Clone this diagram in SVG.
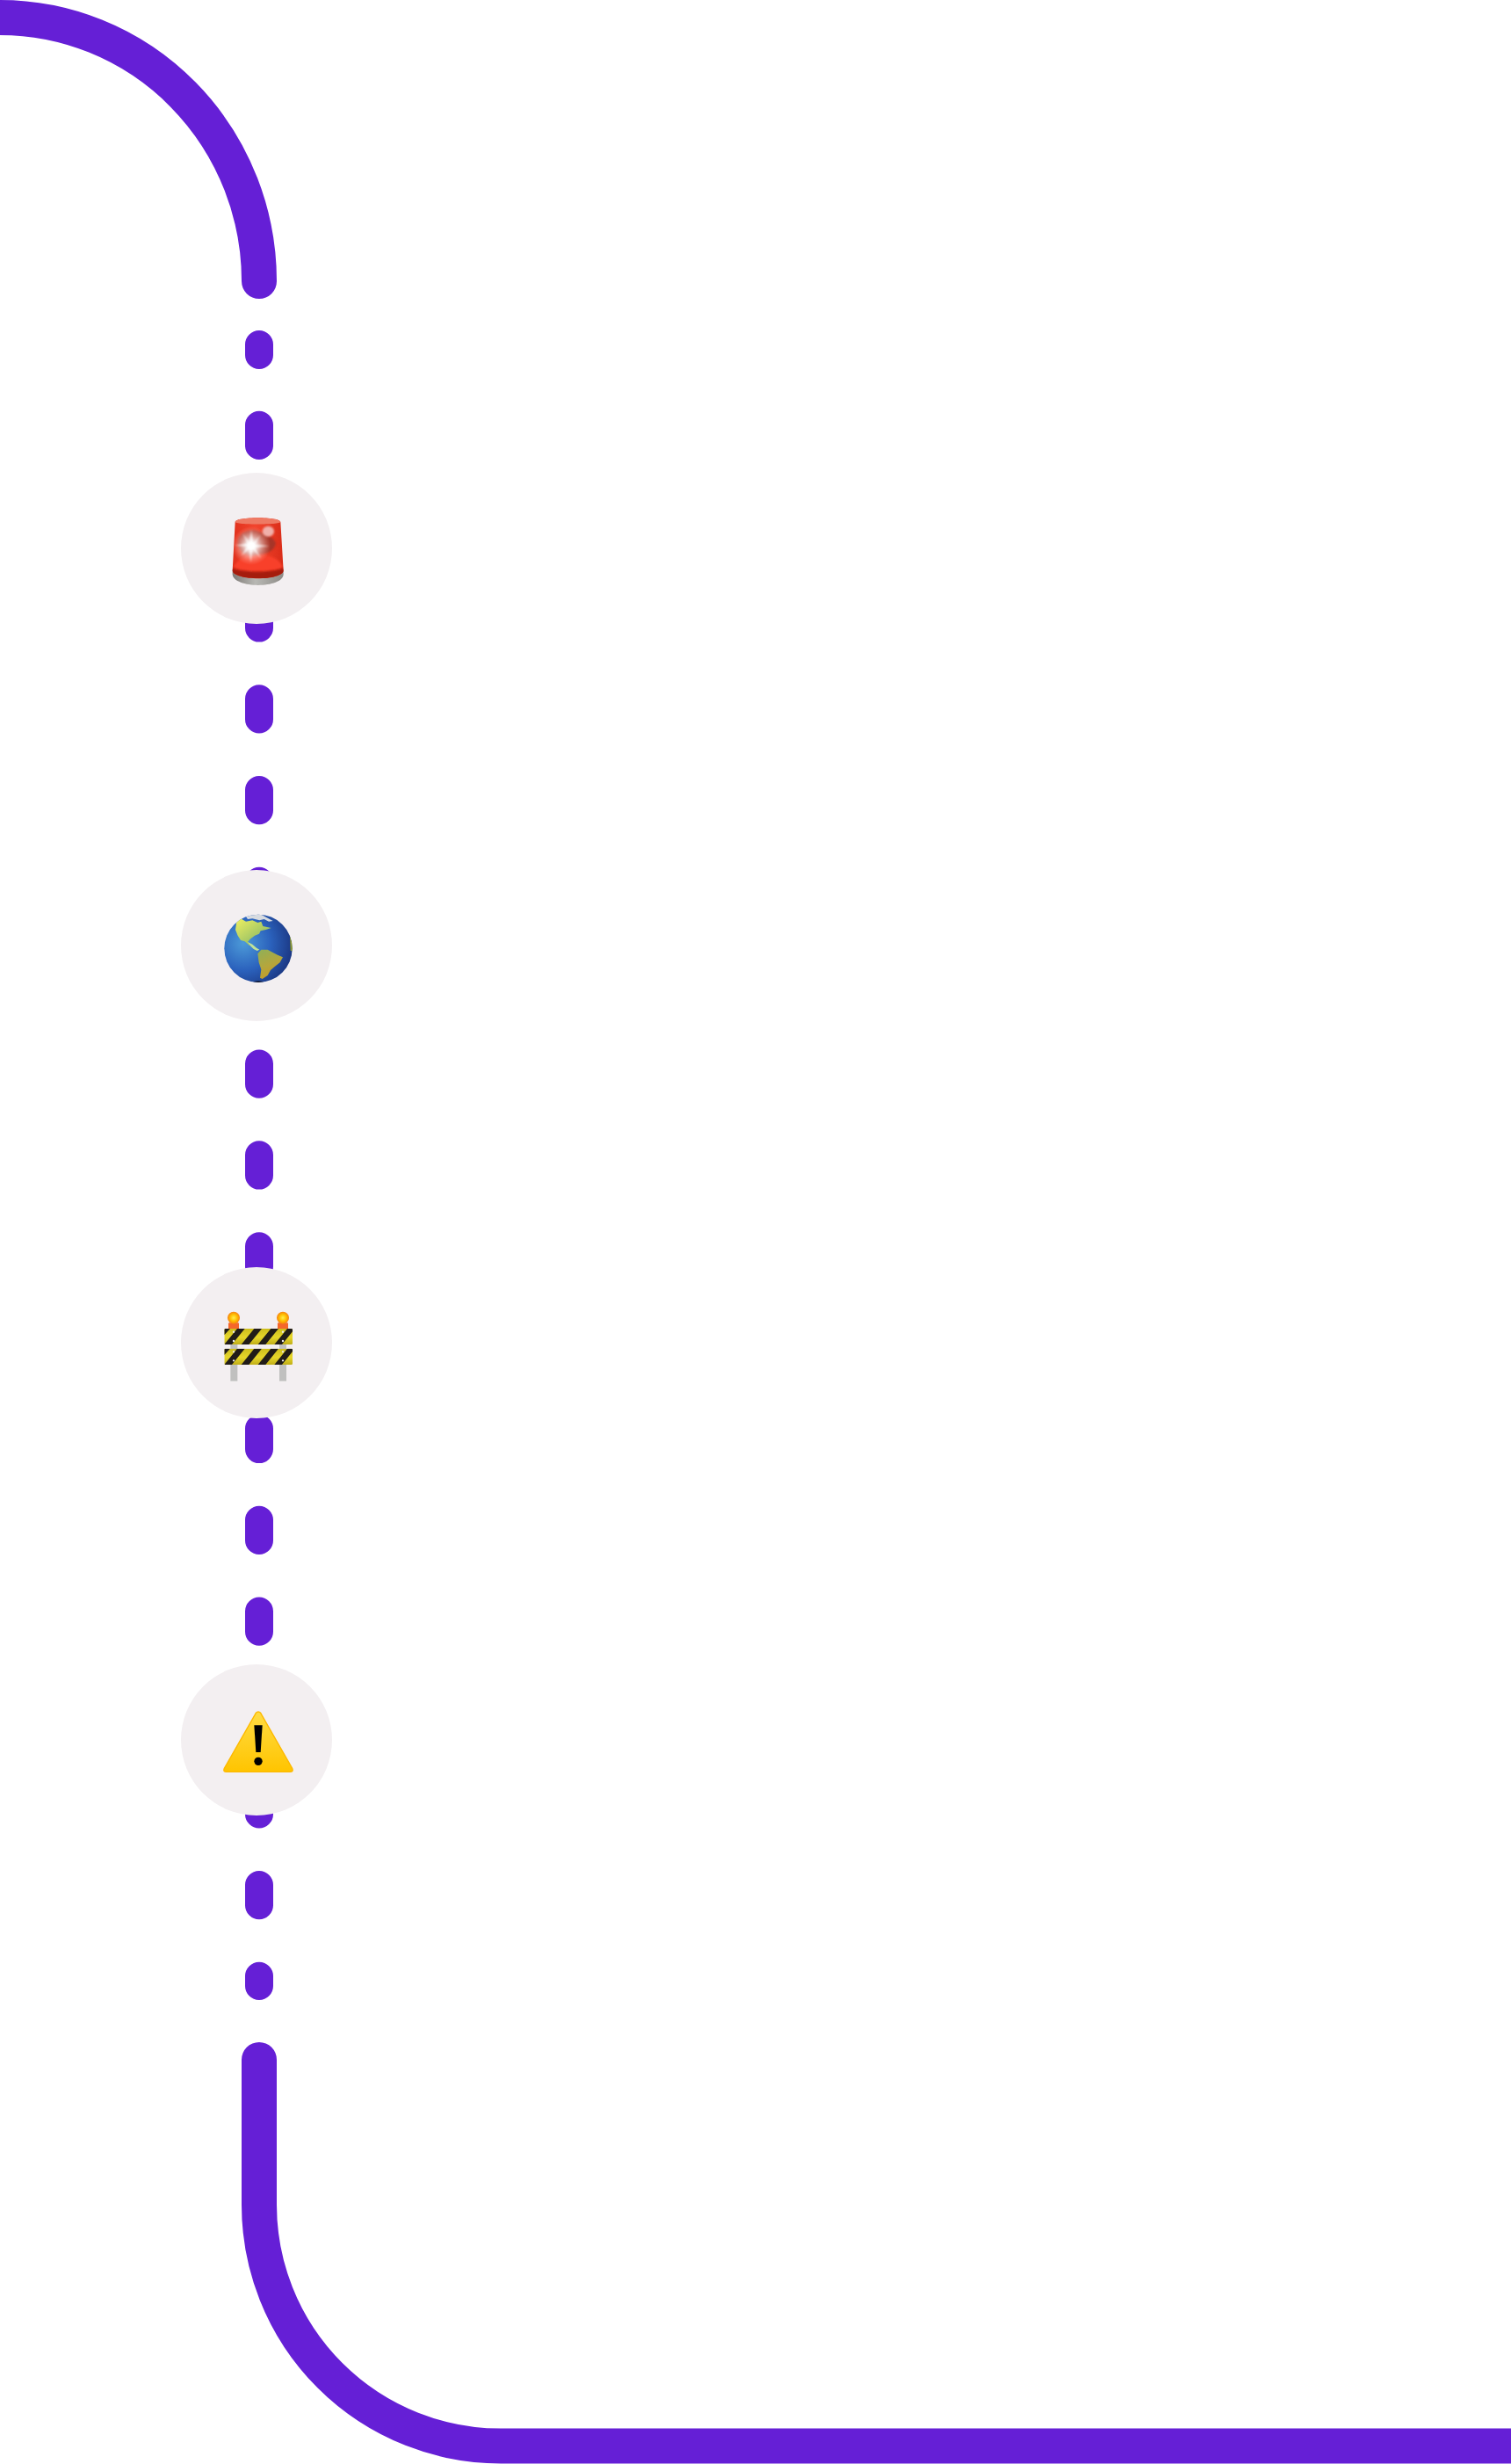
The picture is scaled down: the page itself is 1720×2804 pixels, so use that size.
<svg xmlns="http://www.w3.org/2000/svg" width="1720" height="2804" viewBox="0 0 1720 2804">
<style>
.thick{fill:none;stroke:#651fd6;stroke-width:40;stroke-linecap:round}
.dash{fill:none;stroke:#651fd6;stroke-width:32;stroke-linecap:round}
.disc{fill:#f3eff1}
</style>
<defs>
<filter id="soft" x="-20%" y="-20%" width="140%" height="140%"><feGaussianBlur stdDeviation="3"/></filter>
<filter id="soft2" x="-30%" y="-30%" width="160%" height="160%"><feGaussianBlur stdDeviation="7"/></filter>
<linearGradient id="gBody" x1="0" x2="1" y1="0" y2="0"><stop offset="0" stop-color="#e0301c"/><stop offset=".45" stop-color="#f2452e"/><stop offset="1" stop-color="#d92c18"/></linearGradient>
<linearGradient id="gBase" x1="0" x2="1" y1="0" y2="0"><stop offset="0" stop-color="#7f7b77"/><stop offset=".45" stop-color="#b8b8b4"/><stop offset="1" stop-color="#8d8b87"/></linearGradient>
<radialGradient id="gFlash"><stop offset="0" stop-color="#fff"/><stop offset=".3" stop-color="#fff" stop-opacity=".8"/><stop offset="1" stop-color="#ffb0a0" stop-opacity="0"/></radialGradient>
<radialGradient id="gSea" cx=".28" cy=".42" r=".8"><stop offset="0" stop-color="#4c9ad8"/><stop offset=".5" stop-color="#2b62bd"/><stop offset="1" stop-color="#182f78"/></radialGradient>
<linearGradient id="gLand" x1="0" x2="1" y1="0" y2="1"><stop offset="0" stop-color="#f0f060"/><stop offset=".6" stop-color="#a5c865"/><stop offset="1" stop-color="#8fb060"/></linearGradient>
<linearGradient id="gLand2" x1="0" x2=".4" y1="0" y2="1"><stop offset="0" stop-color="#8fb058"/><stop offset=".6" stop-color="#b5a63c"/><stop offset="1" stop-color="#c49c28"/></linearGradient>
<radialGradient id="gLamp"><stop offset="0" stop-color="#ffee50"/><stop offset=".55" stop-color="#ffc000"/><stop offset="1" stop-color="#f58010"/></radialGradient>
<linearGradient id="gPlank" x1="0" x2="0" y1="0" y2="1"><stop offset="0" stop-color="#cdbd1c"/><stop offset=".55" stop-color="#e6d62a"/><stop offset="1" stop-color="#c0ae18"/></linearGradient>
<linearGradient id="gWarn" x1="0" x2="0" y1="0" y2="1"><stop offset="0" stop-color="#ffdc44"/><stop offset="1" stop-color="#ffc400"/></linearGradient>
<clipPath id="cPlank1"><rect x="226" y="276" width="233" height="54" rx="4"/></clipPath>
<clipPath id="cPlank2"><rect x="226" y="344" width="233" height="55" rx="4"/></clipPath>
<clipPath id="cGlobe"><circle cx="342" cy="328" r="116"/></clipPath>
<clipPath id="cLens"><path d="M263 222C263 203 418 203 418 222L428 388C428 405 385 415 341 415C300 415 254 405 254 388Z"/></clipPath>
</defs>
<rect width="1720" height="2804" fill="#fff"/>
<g id="connectors">
<path class="thick" d="M-20 20H0A295 300 0 0 1 295 320"/>
<path class="dash" d="M295 392V404M295 483.700V507M295 587.500V610.800M295 691.300V714.600M295 795.200V818.500M295 899V922.300M295 1002.800V1026.100M295 1106.700V1130M295 1210.500V1233.800M295 1314.300V1337.600M295 1418.200V1441.500M295 1522V1545.300M295 1625.800V1649.100M295 1729.700V1753M295 1833.500V1856.800M295 1937.300V1960.600M295 2041.200V2064.500M295 2145V2168.300M295 2248.800V2260"/>
<path class="thick" d="M295 2344V2509A275 274.500 0 0 0 570 2783.500H1740"/>
</g>
<g id="node-beacon">
<circle class="disc" cx="292" cy="624" r="86"/>
<g transform="translate(180 520) scale(.33333)">
<path fill="url(#gBase)" d="M254 385V400C254 425 300 438 341 438C385 438 428 425 428 400V385Z"/>
<path fill="url(#gBody)" d="M263 222C263 203 418 203 418 222L428 388C428 405 385 415 341 415C300 415 254 405 254 388Z"/>
<g clip-path="url(#cLens)">
<path fill="#ee7a64" d="M263 222C263 203 418 203 418 222C418 232 263 232 263 222Z"/>
<path fill="#f8402a" filter="url(#soft)" d="M258 375C275 345 300 335 342 335C385 335 412 345 425 375C410 395 280 395 258 375Z"/>
<path fill="#a51a0c" filter="url(#soft)" d="M250 378C280 396 400 396 432 378V420H250Z"/>
<path fill="#9c3429" opacity=".85" filter="url(#soft)" d="M272 290C275 262 300 250 330 250C360 262 395 270 402 295C398 320 375 332 340 332C310 345 272 325 272 290Z"/>
</g>
<ellipse cx="376" cy="254" rx="20" ry="18" fill="#f0b0aa" filter="url(#soft)"/>
<circle cx="318" cy="303" r="66" fill="url(#gFlash)"/>
<path fill="#fff" opacity=".85" filter="url(#soft)" d="M318 248L324 296L350 266L329 300L380 304L329 309L352 347L322 312L316 360L312 312L284 337L306 305L262 302L307 296L288 260L313 294Z"/>
<circle cx="318" cy="303" r="13" fill="#fff" filter="url(#soft)"/>
</g>
</g>
<g id="node-globe">
<circle class="disc" cx="292" cy="1076" r="86"/>
<g transform="translate(180 970) scale(.33333)">
<circle cx="342" cy="328" r="116" fill="url(#gSea)"/>
<g clip-path="url(#cGlobe)">
<path fill="url(#gLand)" d="M268 236L282 226L300 236L322 232L340 240L352 236L358 252L386 258L368 264L350 268L345 278L330 284L314 296L306 306L322 316L312 318L296 304L282 300L272 284L264 264Z"/>
<path fill="#bfe29a" d="M306 306L322 314L336 326L346 332L338 336L326 330L316 320Z"/>
<path fill="url(#gLand2)" d="M340 346L352 332L374 332L392 342L408 350L426 358L416 376L398 390L384 402L374 420L356 432L348 428L352 400L344 376Z"/>
<path fill="#d7dbe0" d="M298 216L320 212H352L392 234L378 236L362 228L346 232L322 226L306 228Z"/>
<path fill="#8d9a30" d="M450 285L462 300V340L452 335Z"/>
<path fill="#111a35" d="M325 442Q342 436 360 442V448H325Z"/>
</g>
</g>
</g>
<g id="node-barrier">
<circle class="disc" cx="292" cy="1528" r="86"/>
<g transform="translate(180 1420) scale(.33333)">
<rect x="247" y="330" width="24" height="125" fill="#c0c0bf"/>
<rect x="414" y="330" width="24" height="125" fill="#c0c0bf"/>
<rect x="240" y="256" width="36" height="22" rx="3" fill="#f5672a"/>
<rect x="408" y="256" width="36" height="22" rx="3" fill="#f5672a"/>
<circle cx="258" cy="239" r="21" fill="url(#gLamp)"/>
<circle cx="426" cy="239" r="21" fill="url(#gLamp)"/>
<g clip-path="url(#cPlank1)">
<rect x="226" y="276" width="233" height="54" fill="url(#gPlank)"/>
<path fill="#211c18" d="M226 276H246L226 298ZM270 276H296L252 330H226ZM328 276H354L310 330H284ZM385 276H411L367 330H341ZM441 276H467L423 330H397Z"/>
</g>
<g clip-path="url(#cPlank2)">
<rect x="226" y="344" width="233" height="55" fill="url(#gPlank)"/>
<path fill="#211c18" d="M226 344H246L226 366ZM270 344H296L252 399H226ZM328 344H354L310 399H284ZM385 344H411L367 399H341ZM441 344H467L423 399H397Z"/>
</g>
<g fill="#eee"><circle cx="258" cy="287" r="3.500"/><circle cx="258" cy="318" r="3.500"/><circle cx="426" cy="287" r="3.500"/><circle cx="426" cy="318" r="3.500"/><circle cx="258" cy="355" r="3.500"/><circle cx="258" cy="385" r="3.500"/><circle cx="426" cy="355" r="3.500"/><circle cx="426" cy="385" r="3.500"/></g>
</g>
</g>
<g id="node-warning">
<circle class="disc" cx="292" cy="1980" r="86"/>
<g transform="translate(180 1870) scale(.33333)">
<path fill="url(#gWarn)" stroke="#fdb900" stroke-width="4" stroke-linejoin="round" d="M334 238Q342 230 350 238L458 427Q463 439 451 439H233Q221 439 226 427Z"/>
<path fill="#000" d="M328 280H356L350 372H334Z"/>
<circle cx="342" cy="403" r="14" fill="#000"/>
</g>
</g>
</svg>
